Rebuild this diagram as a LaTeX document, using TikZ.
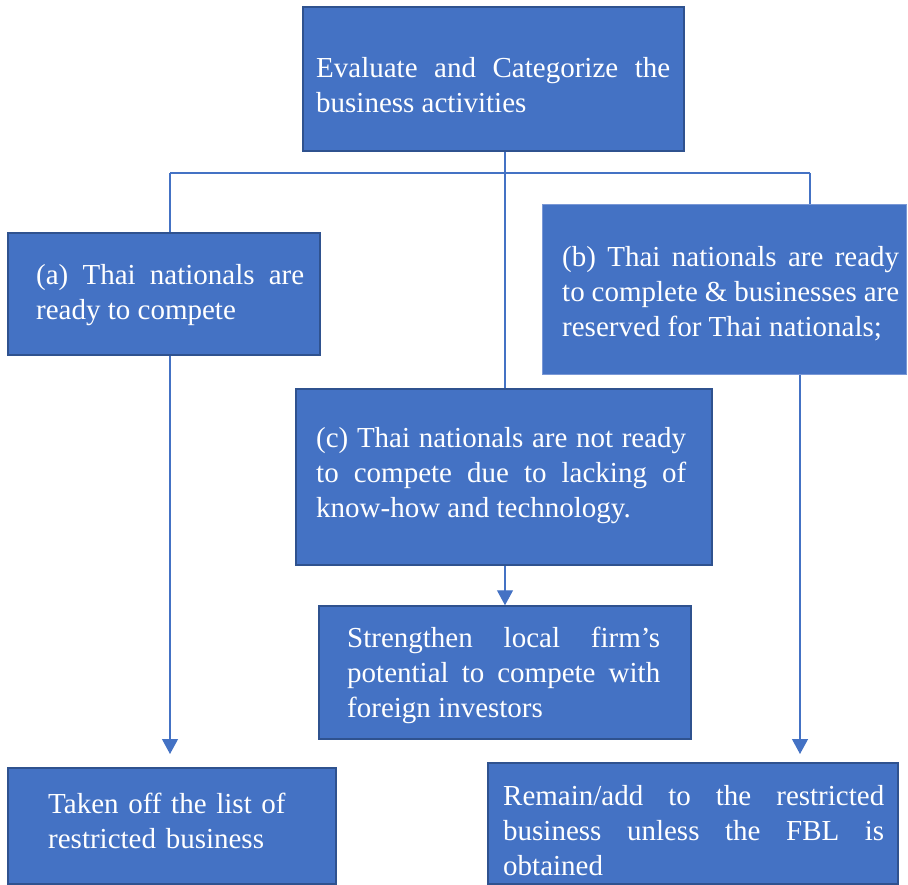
\documentclass[tikz,border=0pt]{standalone}
\usepackage{fontspec}
\setmainfont{Liberation Serif}
\usetikzlibrary{arrows.meta}
\definecolor{boxfill}{HTML}{4472C4}
\definecolor{boxline}{HTML}{2F528F}
\definecolor{boxlight}{HTML}{7A98D6}
\hyphenpenalty=10000
\begin{document}
\begin{tikzpicture}[x=1pt,y=-1pt,
 box/.style={draw=boxline, line width=1.5pt, fill=boxfill, inner sep=0},
 txt/.style={text=white, font=\fontsize{29}{35}\selectfont, inner sep=0, anchor=west, align=justify},
 link/.style={draw=boxfill, line width=1.2pt},
 arr/.style={link, -{Triangle[length=15pt,width=16pt]}}]
\useasboundingbox (0,0) rectangle (908,885);
% boxes
\node[box, minimum width=381, minimum height=144] (top) at (493.5,79) {};
\node[box, minimum width=312, minimum height=122] (a) at (164,294) {};
\node[box, draw=boxlight, line width=1pt, minimum width=364, minimum height=170] (b) at (724,290) {};
\node[box, minimum width=416, minimum height=176] (c) at (504,477) {};
\node[box, minimum width=372, minimum height=133] (s) at (505,672.5) {};
\node[box, minimum width=328, minimum height=116] (t) at (172,826) {};
\node[box, minimum width=410, minimum height=121] (r) at (693,823.5) {};
% texts
\node[txt, text width=354] (toptxt) at (316,85) {Evaluate and Categorize the\linebreak business activities};
\node[txt, text width=268] (atxt) at (36,295) {(a) Thai nationals are\linebreak ready to compete};
\node[txt, text width=337] (btxt) at (562,294) {(b) Thai nationals are ready\linebreak to complete \& businesses are\linebreak reserved for Thai nationals;};
\node[txt, text width=370] (ctxt) at (316,476) {(c) Thai nationals are not ready\linebreak to compete due to lacking of\linebreak know-how and technology.};
\node[txt, text width=313] (stxt) at (347,675) {Strengthen local firm’s\linebreak potential to compete with\linebreak foreign investors};
\node[txt, text width=240, align=left] (ttxt) at (48,821) {Taken off the list of\\ restricted business};
\node[txt, text width=381] (rtxt) at (503,831) {Remain/add to the restricted\linebreak business unless the FBL is\linebreak obtained};
% connectors
\coordinate (j) at (505,173);
\coordinate (hl) at (170,173);
\coordinate (hr) at (810,173);
\draw[link] (top.south -| j) -- (j);
\draw[link] (hl) -- (hr);
\draw[link] (hl) -- (hl |- a.north);
\draw[link] (j) -- (j |- c.north);
\draw[link] (hr) -- (hr |- b.north);
\coordinate (ta) at (170,754);
\coordinate (rb) at (800,754);
\draw[arr] (a.south -| ta) -- (ta);
\draw[arr] (c.south -| j) -- (j |- s.north);
\draw[arr] (b.south -| rb) -- (rb);
\end{tikzpicture}
\end{document}
